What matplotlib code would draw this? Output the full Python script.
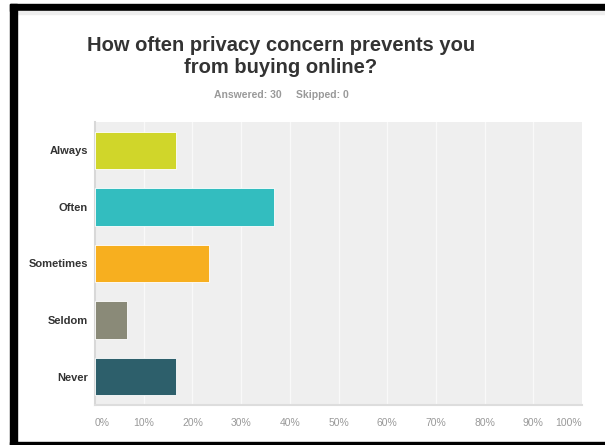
import matplotlib.pyplot as plt
from matplotlib.patches import Rectangle

# survey answers (percent of 30 respondents)
categories = ['Always', 'Often', 'Sometimes', 'Seldom', 'Never']
percents = [16.67, 36.67, 23.33, 6.67, 16.67]
colors = ['#D0D62A', '#33BDBF', '#F7AF1F', '#8A8A78', '#2D5F6B']
ticks = [0, 10, 20, 30, 40, 50, 60, 70, 80, 90, 100]
tick_labels = [str(t) + '%' for t in ticks]

plt.rcParams['font.family'] = ['Liberation Sans', 'DejaVu Sans']

W, H = 605, 445
fig = plt.figure(figsize=(W / 100, H / 100), dpi=100)
fig.patch.set_facecolor('white')

# black frame round the screenshot
def px_rect(x0, y0, x1, y1, color):
    fig.patches.append(Rectangle((x0 / W, 1 - y1 / H), (x1 - x0) / W, (y1 - y0) / H,
                                 transform=fig.transFigure, color=color, zorder=10))

px_rect(10, 4, W, 11, 'black')
px_rect(17, 11, W, 14, '#eeeeee')
px_rect(10, 4, 17, H, 'black')
px_rect(10, 442, W, H, 'black')

# plot area 95..582 x, 122..405 y
ax = fig.add_axes([95 / W, 1 - 405 / H, 487 / W, 283 / H])
ax.set_facecolor('#EFEFEF')
ypos = list(range(len(categories)))
ax.barh(ypos, percents, height=0.66, color=colors, edgecolor='white', linewidth=0.6, zorder=3)
ax.set_ylim(len(categories) - 0.5, -0.5)
ax.set_xlim(0, 100)

for t in ticks[1:-1]:
    ax.axvline(t, color='#F9F9F9', lw=1, zorder=1)

ax.set_yticks(ypos)
ax.set_yticklabels(categories, fontsize=8, fontweight='bold', color='#333333')
ax.set_xticks(ticks)
ax.set_xticklabels(tick_labels, fontsize=7.5, color='#999999')
ax.get_xticklabels()[0].set_ha('left')
ax.get_xticklabels()[-1].set_ha('right')
ax.tick_params(axis='both', length=0)
ax.tick_params(axis='x', pad=9)
ax.tick_params(axis='y', pad=5)

for s in ['top', 'right']:
    ax.spines[s].set_visible(False)
ax.spines['left'].set_color('#D8D8D8')
ax.spines['left'].set_linewidth(1.5)
ax.spines['bottom'].set_color('#DDDDDD')
ax.spines['bottom'].set_linewidth(1.5)

fig.text(281 / W, 1 - 73 / H, 'How often privacy concern prevents you\nfrom buying online?',
         ha='center', va='baseline', fontsize=14.5, fontweight='bold', color='#333333',
         linespacing=1.2)
fig.text(281 / W, 1 - 98 / H, 'Answered: 30     Skipped: 0', ha='center', va='baseline',
         fontsize=7.5, fontweight='bold', color='#999999')

fig.savefig('out.png', dpi=100)
